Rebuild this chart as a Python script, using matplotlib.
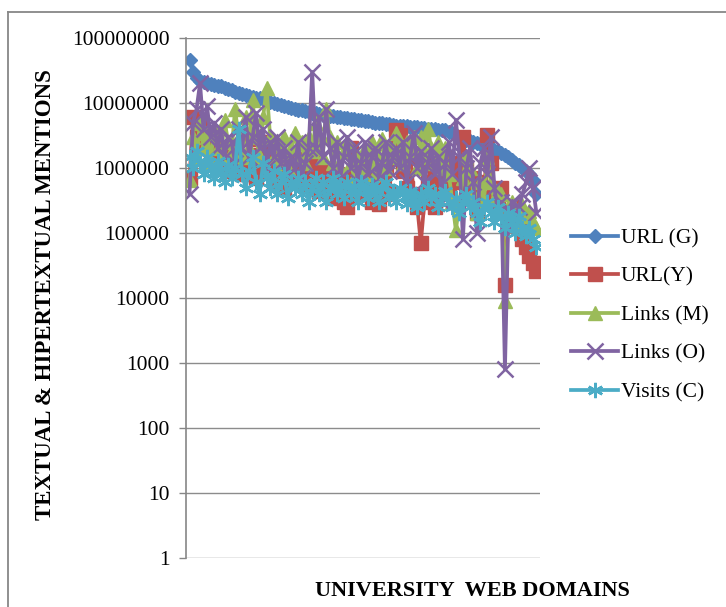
import matplotlib
matplotlib.use("Agg")
import matplotlib.pyplot as plt
from matplotlib.lines import Line2D
import numpy as np

# values, 100 university web domains sorted by URL (G)
url_g = [4.6e7, 3.0e7, 2.4e7, 2.2e7, 2.1e7, 2.0e7, 1.95e7, 1.9e7, 1.85e7, 1.8e7,
         1.7e7, 1.65e7, 1.6e7, 1.5e7, 1.45e7, 1.4e7, 1.35e7, 1.3e7, 1.25e7, 1.2e7,
         1.18e7, 1.15e7, 1.1e7, 1.05e7, 1.0e7, 9.6e6, 9.3e6, 9.0e6, 8.7e6, 8.4e6,
         8.1e6, 7.9e6, 7.7e6, 7.5e6, 7.3e6, 7.1e6, 6.9e6, 6.7e6, 6.5e6, 6.4e6,
         6.3e6, 6.2e6, 6.1e6, 6.0e6, 5.9e6, 5.8e6, 5.7e6, 5.6e6, 5.5e6, 5.4e6,
         5.3e6, 5.2e6, 5.1e6, 5.0e6, 4.9e6, 4.85e6, 4.8e6, 4.7e6, 4.6e6, 4.5e6,
         4.45e6, 4.4e6, 4.35e6, 4.3e6, 4.25e6, 4.2e6, 4.15e6, 4.1e6, 4.05e6, 4.0e6,
         3.95e6, 3.9e6, 3.85e6, 3.8e6, 3.6e6, 3.4e6, 3.2e6, 3.0e6, 2.8e6, 2.7e6,
         2.6e6, 2.5e6, 2.4e6, 2.3e6, 2.2e6, 2.1e6, 2.0e6, 1.9e6, 1.8e6, 1.7e6,
         1.6e6, 1.5e6, 1.35e6, 1.2e6, 1.1e6, 1.0e6, 9.0e5, 8.0e5, 6.5e5, 4.0e5]

url_y = [7.0e5, 6.0e6, 3.0e6, 4.5e6, 2.0e6, 3.5e6, 1.5e6, 2.5e6, 1.2e6, 2.0e6,
         1.0e6, 1.8e6, 9.0e5, 2.2e6, 1.5e6, 8.0e5, 1.3e6, 2.8e6, 1.1e6, 7.0e5,
         1.6e6, 9.0e5, 2.5e6, 1.2e6, 6.0e5, 1.5e6, 8.0e5, 5.0e5, 1.2e6, 7.0e5,
         1.0e6, 6.0e5, 1.4e6, 8.0e5, 5.5e5, 9.0e5, 1.2e6, 4.5e5, 7.0e5, 1.0e6,
         5.0e5, 3.5e5, 8.0e5, 6.0e5, 3.0e5, 2.5e5, 2.0e6, 9.0e5, 4.0e5, 6.0e5,
         1.2e6, 5.0e5, 3.0e5, 8.0e5, 2.8e5, 6.0e5, 1.0e6, 4.0e5, 2.0e6, 3.8e6,
         3.2e6, 9.0e5, 5.0e5, 1.5e6, 4.0e5, 2.5e5, 7.0e4, 3.0e5, 6.0e5, 1.2e6,
         2.5e5, 8.0e5, 5.0e5, 1.5e6, 4.0e5, 9.0e5, 6.0e5, 1.2e6, 3.0e6, 1.0e6,
         4.0e5, 7.0e5, 2.0e5, 6.0e5, 3.5e5, 3.2e6, 1.2e6, 4.0e5, 2.5e5, 5.0e5,
         1.6e4, 2.0e5, 1.5e5, 2.5e5, 1.2e5, 8.0e4, 6.0e4, 4.5e4, 3.5e4, 2.6e4]

links_m = [6.5e5, 3.0e6, 1.5e6, 5.0e6, 2.0e6, 3.5e6, 1.2e6, 4.0e6, 2.0e6, 1.5e6,
           5.5e6, 2.5e6, 1.8e6, 8.0e6, 3.0e6, 1.5e6, 6.0e6, 2.0e6, 1.1e7, 3.0e6,
           1.5e6, 6.0e6, 1.7e7, 3.0e6, 1.5e6, 2.5e6, 1.2e6, 3.0e6, 1.0e6, 2.0e6,
           3.5e6, 1.5e6, 2.5e6, 1.2e6, 3.0e6, 1.8e6, 5.0e6, 2.0e6, 1.5e6, 8.0e6,
           3.0e6, 1.2e6, 2.5e6, 1.0e6, 1.8e6, 2.5e6, 1.2e6, 7.0e5, 1.5e6, 9.0e5,
           2.0e6, 1.2e6, 2.5e6, 8.0e5, 1.5e6, 2.8e6, 1.0e6, 2.0e6, 1.5e6, 3.5e6,
           2.0e6, 1.2e6, 2.5e6, 1.8e6, 3.0e6, 1.0e6, 3.0e6, 1.5e6, 4.0e6, 2.0e6,
           1.2e6, 2.5e6, 1.0e6, 2.0e6, 8.0e5, 3.0e5, 1.1e5, 3.0e5, 7.0e5, 1.5e6,
           1.0e6, 4.0e5, 2.0e5, 6.0e5, 3.0e5, 1.5e6, 6.0e5, 3.0e5, 4.5e5, 4.0e5,
           9.0e3, 2.5e5, 3.0e5, 2.0e5, 1.5e5, 2.7e5, 1.8e5, 2.2e5, 1.5e5, 1.2e5]

links_o = [4.0e5, 5.0e6, 8.0e6, 2.0e7, 4.0e6, 9.0e6, 3.0e6, 5.0e6, 2.0e6, 4.0e6,
           1.5e6, 3.0e6, 2.5e6, 1.2e6, 4.0e6, 2.0e6, 6.0e6, 1.5e6, 3.0e6, 7.0e6,
           2.0e6, 4.0e6, 1.0e6, 2.5e6, 1.5e6, 3.0e6, 1.2e6, 2.0e6, 8.0e5, 1.5e6,
           1.0e6, 2.5e6, 7.0e5, 1.2e6, 2.0e6, 3.0e7, 2.0e6, 6.0e6, 1.5e6, 8.0e6,
           2.0e6, 1.0e6, 2.5e6, 7.0e5, 1.5e6, 3.0e6, 1.0e6, 2.0e6, 6.0e5, 1.2e6,
           2.5e6, 8.0e5, 1.5e6, 2.0e6, 7.0e5, 1.2e6, 2.5e6, 9.0e5, 1.5e6, 2.0e6,
           1.0e6, 2.5e6, 6.0e5, 1.5e6, 3.5e6, 1.0e6, 1.8e6, 6.0e5, 1.2e6, 2.0e6,
           8.0e5, 1.5e6, 3.0e5, 1.2e6, 2.5e6, 8.0e5, 5.5e6, 1.5e6, 8.0e4, 1.0e6,
           2.0e6, 6.0e5, 1.0e5, 1.2e6, 2.0e6, 8.0e5, 3.0e6, 5.0e5, 2.0e5, 3.0e5,
           8.0e2, 2.0e5, 3.0e5, 1.5e5, 2.5e5, 4.0e5, 6.0e5, 1.0e6, 5.0e5, 2.0e5]

visits_c = [1.5e6, 1.0e6, 1.8e6, 1.2e6, 8.0e5, 1.5e6, 1.0e6, 7.0e5, 1.3e6, 9.0e5,
            6.0e5, 1.1e6, 7.0e5, 1.0e6, 4.0e6, 8.0e5, 5.0e5, 9.0e5, 1.5e6, 6.0e5,
            4.0e5, 1.2e6, 7.0e5, 5.0e5, 9.0e5, 4.0e5, 6.0e5, 8.0e5, 3.5e5, 6.0e5,
            5.0e5, 7.0e5, 4.0e5, 6.0e5, 3.0e5, 5.0e5, 7.0e5, 4.0e5, 6.0e5, 3.0e5,
            5.0e5, 7.0e5, 4.0e5, 5.5e5, 3.5e5, 6.0e5, 4.0e5, 5.0e5, 3.0e5, 6.0e5,
            4.5e5, 3.5e5, 5.5e5, 4.0e5, 3.0e5, 5.0e5, 6.0e5, 3.5e5, 4.5e5, 3.0e5,
            5.0e5, 4.0e5, 2.8e5, 4.5e5, 3.5e5, 2.5e5, 4.0e5, 3.0e5, 5.0e5, 3.5e5,
            4.0e5, 2.5e5, 3.5e5, 4.5e5, 3.0e5, 2.5e5, 3.5e5, 2.0e5, 3.0e5, 4.0e5,
            2.5e5, 3.0e5, 2.0e5, 1.5e5, 2.5e5, 3.0e5, 2.0e5, 1.5e5, 2.5e5, 1.8e5,
            1.2e5, 2.0e5, 1.5e5, 1.0e5, 1.8e5, 1.2e5, 9.0e4, 1.2e5, 8.0e4, 6.0e4]

series_names = ["URL (G)", "URL(Y)", "Links (M)", "Links (O)", "Visits (C)"]
ytick_values = [1, 10, 100, 1000, 10000, 100000, 1000000, 10000000, 100000000]
ytick_labels = ["1", "10", "100", "1000", "10000", "100000", "1000000",
                "10000000", "100000000"]

plt.rcParams["font.family"] = ["Liberation Serif", "DejaVu Serif"]

fig = plt.figure(figsize=(7.26, 6.07), dpi=100)
ax = fig.add_axes([186 / 726, 1 - 558 / 607, 354 / 726, 520 / 607])

x = np.arange(len(url_g))
styles = [
    dict(color="#4F81BD", marker="D", markersize=7.5),
    dict(color="#C0504D", marker="s", markersize=9.5),
    dict(color="#9BBB59", marker="^", markersize=10),
    dict(color="#8064A2", marker="x", markersize=11, markeredgewidth=1.8),
    dict(color="#4BACC6", marker=(6, 2, 0), markersize=11, markeredgewidth=1.8),
]
for vals, name, st in zip([url_g, url_y, links_m, links_o, visits_c], series_names, styles):
    ax.plot(x, vals, label=name, linewidth=2.7, **st)

ax.set_yscale("log")
ax.set_ylim(1, 1e8)
ax.set_xlim(-1, 100)
ax.set_yticks(ytick_values)
ax.set_yticklabels(ytick_labels)
ax.yaxis.set_minor_locator(matplotlib.ticker.NullLocator())
ax.set_xticks([])
ax.tick_params(axis="y", labelsize=15.5, length=5, width=1, color="#868686", pad=7)
ax.grid(axis="y", color="#8c8c8c", linewidth=1)
ax.set_axisbelow(True)
for side in ["top", "right", "bottom"]:
    ax.spines[side].set_visible(False)
ax.spines["left"].set_color("#868686")
ax.spines["left"].set_linewidth(1.2)

fig.text(46 / 726, 1 - 295 / 607, "TEXTUAL & HIPERTEXTUAL MENTIONS", rotation=90,
         ha="center", va="center", fontsize=16.5, fontweight="bold")
fig.text(472 / 726, 1 - 591 / 607, "UNIVERSITY  WEB DOMAINS", ha="center",
         va="center", fontsize=16, fontweight="bold")

fig.legend(loc="upper left", bbox_to_anchor=(571 / 726, 1 - 228 / 607), frameon=False,
           fontsize=15.5, handlelength=2.2, handletextpad=0.1, labelspacing=0.86,
           borderpad=0, borderaxespad=0)

# chart area border (top and left edges visible in the crop)
fig.add_artist(Line2D([8 / 726, 1], [1 - 11.5 / 607, 1 - 11.5 / 607], color="#878787", linewidth=1.3))
fig.add_artist(Line2D([8 / 726, 8 / 726], [0, 1 - 11.5 / 607], color="#878787", linewidth=1.3))

fig.savefig("out.png", dpi=100)
